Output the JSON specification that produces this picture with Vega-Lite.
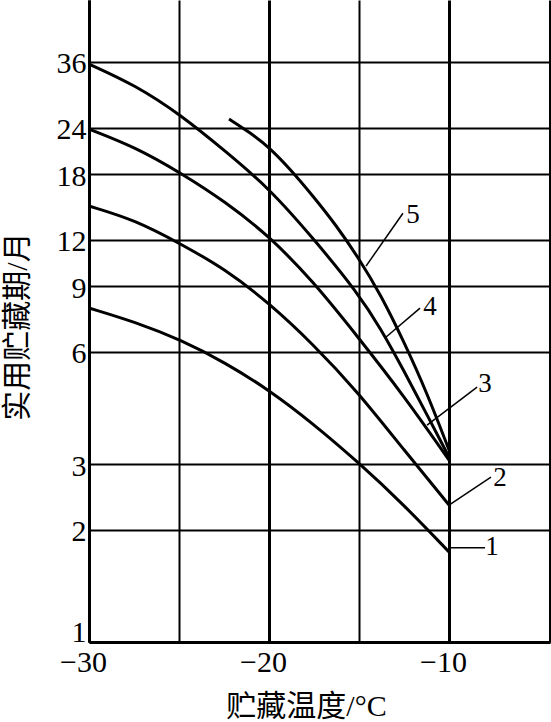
{
  "$schema": "https://vega.github.io/schema/vega-lite/v6.json",
  "width": 461,
  "height": 642,
  "autosize": {"type": "none"},
  "padding": {"left": 89, "top": 0, "right": 1, "bottom": 80},
  "background": "white",
  "config": {
    "view": {"stroke": null},
    "axis": {"labelFont": "Liberation Serif", "labelColor": "black", "titleColor": "black", "titleFont": "Liberation Serif, Noto Sans CJK SC", "titleFontWeight": "normal"}
  },
  "datasets": {
    "curves": [
      {"curve": "1", "t": -30, "v": 7.873},
      {"curve": "1", "t": -27.44, "v": 7.223},
      {"curve": "1", "t": -24.89, "v": 6.462},
      {"curve": "1", "t": -22.44, "v": 5.623},
      {"curve": "1", "t": -20, "v": 4.745},
      {"curve": "1", "t": -17.56, "v": 3.857},
      {"curve": "1", "t": -15.06, "v": 3.041},
      {"curve": "1", "t": -12.5, "v": 2.332},
      {"curve": "1", "t": -10, "v": 1.744},
      {"curve": "2", "t": -30, "v": 14.788},
      {"curve": "2", "t": -27.44, "v": 13.564},
      {"curve": "2", "t": -24.89, "v": 11.69},
      {"curve": "2", "t": -22.44, "v": 10.018},
      {"curve": "2", "t": -20, "v": 8.121},
      {"curve": "2", "t": -17.56, "v": 6.302},
      {"curve": "2", "t": -15.06, "v": 4.687},
      {"curve": "2", "t": -12.5, "v": 3.274},
      {"curve": "2", "t": -10, "v": 2.332},
      {"curve": "3", "t": -30, "v": 23.79},
      {"curve": "3", "t": -27.44, "v": 21.29},
      {"curve": "3", "t": -24.89, "v": 18.13},
      {"curve": "3", "t": -22.44, "v": 15.2},
      {"curve": "3", "t": -20, "v": 12.29},
      {"curve": "3", "t": -17.56, "v": 9.3},
      {"curve": "3", "t": -15.06, "v": 6.583},
      {"curve": "3", "t": -12.5, "v": 4.572},
      {"curve": "3", "t": -10, "v": 3.078},
      {"curve": "4", "t": -30, "v": 35.55},
      {"curve": "4", "t": -27.44, "v": 31.22},
      {"curve": "4", "t": -24.89, "v": 25.94},
      {"curve": "4", "t": -22.44, "v": 20.77},
      {"curve": "4", "t": -20, "v": 16.52},
      {"curve": "4", "t": -17.56, "v": 12.14},
      {"curve": "4", "t": -15.06, "v": 8.638},
      {"curve": "4", "t": -13.78, "v": 6.917},
      {"curve": "4", "t": -12.5, "v": 5.336},
      {"curve": "4", "t": -11.22, "v": 4.066},
      {"curve": "4", "t": -10, "v": 3.136},
      {"curve": "5", "t": -22.22, "v": 25.31},
      {"curve": "5", "t": -21.11, "v": 23.36},
      {"curve": "5", "t": -20, "v": 21.29},
      {"curve": "5", "t": -18.78, "v": 18.47},
      {"curve": "5", "t": -17.56, "v": 15.73},
      {"curve": "5", "t": -16.28, "v": 13.15},
      {"curve": "5", "t": -15.06, "v": 10.79},
      {"curve": "5", "t": -13.78, "v": 8.532},
      {"curve": "5", "t": -12.5, "v": 6.381},
      {"curve": "5", "t": -11.22, "v": 4.658},
      {"curve": "5", "t": -10, "v": 3.274}
    ],
    "leaders": [
      {"label": "5", "t1": -14.61, "v1": 10.2, "t2": -12.56, "v2": 14.14, "tl": -12.0, "vl": 14.0},
      {"label": "4", "t1": -13.56, "v1": 6.54, "t2": -11.61, "v2": 7.87, "tl": -11.06, "vl": 7.9},
      {"label": "3", "t1": -11.22, "v1": 3.82, "t2": -8.44, "v2": 4.83, "tl": -8.0, "vl": 4.92},
      {"label": "2", "t1": -10, "v1": 2.33, "t2": -7.67, "v2": 2.77, "tl": -7.17, "vl": 2.76},
      {"label": "1", "t1": -10, "v1": 1.79, "t2": -8.0, "v2": 1.79, "tl": -7.61, "vl": 1.8}
    ]
  },
  "layer": [
    {
      "data": {"name": "curves"},
      "mark": {"type": "line", "interpolate": "basis", "stroke": "black", "strokeWidth": 3},
      "encoding": {
        "x": {
          "field": "t", "type": "quantitative",
          "scale": {"domain": [-30, -4.39], "nice": false, "zero": false},
          "axis": {
            "title": "贮藏温度/°C",
            "values": [-30, -25, -20, -15, -10, -4.39],
            "format": "d",
            "labelExpr": "(datum.value === -30 || datum.value === -20 || datum.value === -10) ? datum.label : ''",
            "labelFontSize": 30,
            "labelPadding": 5,
            "labelBaseline": "top",
            "labelFlush": false,
            "labelOverlap": false,
            "labelOffset": -6,
            "ticks": false,
            "domainColor": "black",
            "domainWidth": 3,
            "grid": true,
            "gridColor": "black",
            "gridOpacity": 1,
            "gridWidth": {"condition": {"test": "datum.value === -25 || datum.value === -15", "value": 2}, "value": 3},
            "titleFontSize": 30,
            "titleX": 217,
            "titleY": 64,
            "titleBaseline": "middle",
            "titleAlign": "center"
          }
        },
        "y": {
          "field": "v", "type": "quantitative",
          "scale": {"type": "log", "domain": [1, 52.8], "nice": false, "zero": false},
          "axis": {
            "title": "实用贮藏期/月",
            "values": [1, 2, 3, 6, 9, 12, 18, 24, 36],
            "format": "d",
            "labelFontSize": 30,
            "labelPadding": 3,
            "labelFlush": false,
            "labelOverlap": false,
            "labelOffset": {"condition": {"test": "datum.value === 1", "value": -10}, "value": 2},
            "ticks": false,
            "domainColor": "black",
            "domainWidth": 3,
            "grid": true,
            "gridColor": "black",
            "gridOpacity": 1,
            "gridWidth": 2,
            "titleFontSize": 30,
            "titleAngle": -90,
            "titleX": -72,
            "titleY": 326,
            "titleBaseline": "middle",
            "titleAlign": "center"
          }
        },
        "detail": {"field": "curve", "type": "nominal"}
      }
    },
    {
      "data": {"name": "leaders"},
      "mark": {"type": "rule", "stroke": "black", "strokeWidth": 1.5},
      "encoding": {
        "x": {"field": "t1", "type": "quantitative"},
        "y": {"field": "v1", "type": "quantitative"},
        "x2": {"field": "t2"},
        "y2": {"field": "v2"}
      }
    },
    {
      "data": {"name": "leaders"},
      "mark": {"type": "text", "font": "Liberation Serif", "fontSize": 27, "color": "black", "align": "center", "baseline": "middle"},
      "encoding": {
        "x": {"field": "tl", "type": "quantitative"},
        "y": {"field": "vl", "type": "quantitative"},
        "text": {"field": "label"}
      }
    }
  ]
}
